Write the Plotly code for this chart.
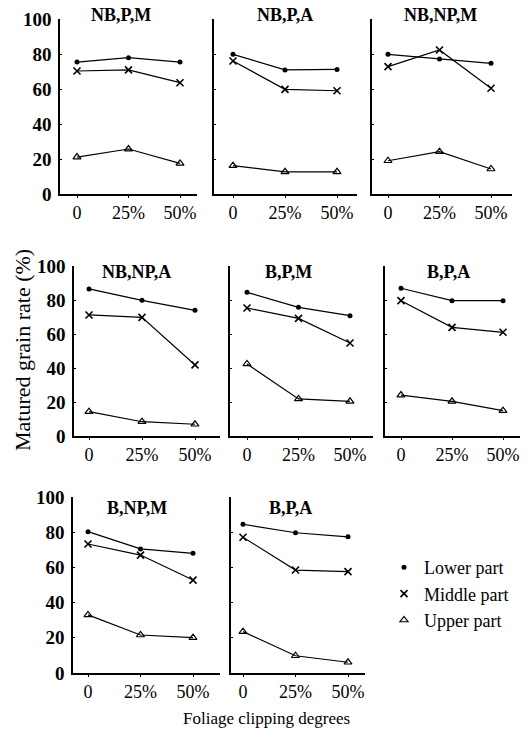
import plotly.graph_objects as go

# ---------------- data ----------------
clipping = [0, 25, 50]
clip_labels = ["0", "25%", "50%"]
y_ticks = [0, 20, 40, 60, 80, 100]
panel_titles = ["NB,P,M", "NB,P,A", "NB,NP,M", "NB,NP,A", "B,P,M", "B,P,A", "B,NP,M", "B,P,A"]
series_names = ["Lower part", "Middle part", "Upper part"]
lower = [[75.4, 77.9, 75.4], [79.8, 70.9, 71.2], [79.8, 77.1, 74.7], [86.5, 79.8, 73.9],
         [84.5, 75.7, 70.8], [86.9, 79.6, 79.6], [80.3, 70.5, 68.0], [84.5, 79.7, 77.4]]
middle = [[70.3, 70.9, 63.6], [76.0, 59.8, 59.0], [72.8, 82.3, 60.4], [71.2, 69.8, 41.8],
          [75.3, 69.2, 54.7], [79.6, 63.9, 61.0], [73.3, 67.0, 52.8], [77.1, 58.5, 57.6]]
upper = [[21.1, 25.7, 17.5], [16.2, 12.7, 12.7], [19.0, 24.2, 14.3], [14.3, 8.4, 6.9],
         [42.4, 21.8, 20.4], [24.1, 20.4, 14.9], [33.0, 21.6, 20.1], [23.5, 9.8, 6.1]]

# ---------------- layout geometry (pixels) ----------------
W, H = 531, 738
# left end, right end, x of tick "0", x of tick "50%", row, title centre x
panels = [
    (60, 197, 77, 180, 0, 121),
    (214, 357, 233, 337, 0, 285),
    (372, 512, 388, 491, 0, 440),
    (74, 220, 89, 195, 1, 137),
    (230, 373, 247, 350, 1, 288),
    (385, 520, 401, 503, 1, 448),
    (73, 220, 88, 193, 2, 137),
    (231, 365, 243, 348, 2, 290),
]
# y pixel of value 0, y pixel of value 100, title centre y
rows = [(194, 19, 15), (436, 266, 272), (673, 497, 508)]
labelled = {0, 3, 6}

SERIF = "Liberation Serif"
styles = [
    dict(symbol="circle", size=5, color="black"),
    dict(symbol="x-thin", size=7, color="black", line=dict(width=1.6, color="black")),
    dict(symbol="triangle-up-open", size=7, color="black", line=dict(width=1.2, color="black")),
]

fig = go.Figure()
layout = dict(
    width=W, height=H, margin=dict(l=0, r=0, t=0, b=0, pad=0, autoexpand=False),
    autosize=False,
    paper_bgcolor="white", plot_bgcolor="white",
    font=dict(family=SERIF, color="black"),
    showlegend=True,
)
annotations = []

for i, (xl, xr, t0, t50, r, tcx) in enumerate(panels):
    n = "" if i == 0 else str(i + 1)
    s = (t50 - t0) / 50.0
    xrange = [(xl - t0) / s, (xr - t0) / s]
    yb, yt, ty = rows[r]
    layout["xaxis" + n] = dict(
        domain=[xl / W, xr / W], range=xrange, anchor="y" + n,
        showline=True, linecolor="black", linewidth=1.5, mirror=False,
        showgrid=False, zeroline=False, automargin=False,
        ticks="outside", ticklen=2, tickwidth=1.2, tickcolor="black",
        tickvals=clipping, ticktext=clip_labels,
        tickfont=dict(family=SERIF, size=18, color="black"),
        fixedrange=True,
    )
    layout["yaxis" + n] = dict(
        domain=[1 - yb / H, 1 - yt / H], range=[0, 100], anchor="x" + n,
        showline=True, linecolor="black", linewidth=1.5,
        showgrid=False, zeroline=False, automargin=False,
        ticks="inside", ticklen=2, tickwidth=1, tickcolor="black",
        tickvals=y_ticks, showticklabels=(i in labelled),
        tickfont=dict(family=SERIF, size=19, color="black", weight="bold"),
        ticklabelstandoff=3,
        fixedrange=True,
    )
    for k, data in enumerate([lower, middle, upper]):
        fig.add_trace(go.Scatter(
            x=clipping, y=data[i], mode="lines+markers",
            xaxis="x" + n, yaxis="y" + n,
            line=dict(color="black", width=1.2),
            marker=styles[k], showlegend=False, cliponaxis=False,
            name=series_names[k],
        ))
    annotations.append(dict(
        text=panel_titles[i], xref="paper", yref="paper",
        x=tcx / W, y=1 - ty / H, xanchor="center", yanchor="middle",
        showarrow=False, font=dict(family=SERIF, size=18, color="black", weight="bold"),
    ))

# legend-only traces
for k in range(3):
    fig.add_trace(go.Scatter(
        x=[None], y=[None], mode="markers", marker=styles[k],
        name=series_names[k], showlegend=True,
    ))

layout["legend"] = dict(
    x=384 / W, y=1 - 549 / H, xanchor="left", yanchor="top",
    font=dict(family=SERIF, size=18, color="black"),
    bgcolor="rgba(0,0,0,0)", borderwidth=0, itemwidth=30,
    tracegroupgap=0,
)

annotations.append(dict(
    text="Matured grain rate (%)", xref="paper", yref="paper",
    x=22 / W, y=1 - 350 / H, xanchor="center", yanchor="middle", textangle=-90,
    showarrow=False, font=dict(family=SERIF, size=22, color="black"),
))
annotations.append(dict(
    text="Foliage clipping degrees", xref="paper", yref="paper",
    x=266 / W, y=1 - 718 / H, xanchor="center", yanchor="middle",
    showarrow=False, font=dict(family=SERIF, size=17, color="black"),
))
layout["annotations"] = annotations

fig.update_layout(**layout)
fig.write_html(
    "out.html",
    config={"displayModeBar": False},
    post_script="document.body.style.margin='0';document.body.style.padding='0';"
                "document.body.style.overflow='hidden';",
)
